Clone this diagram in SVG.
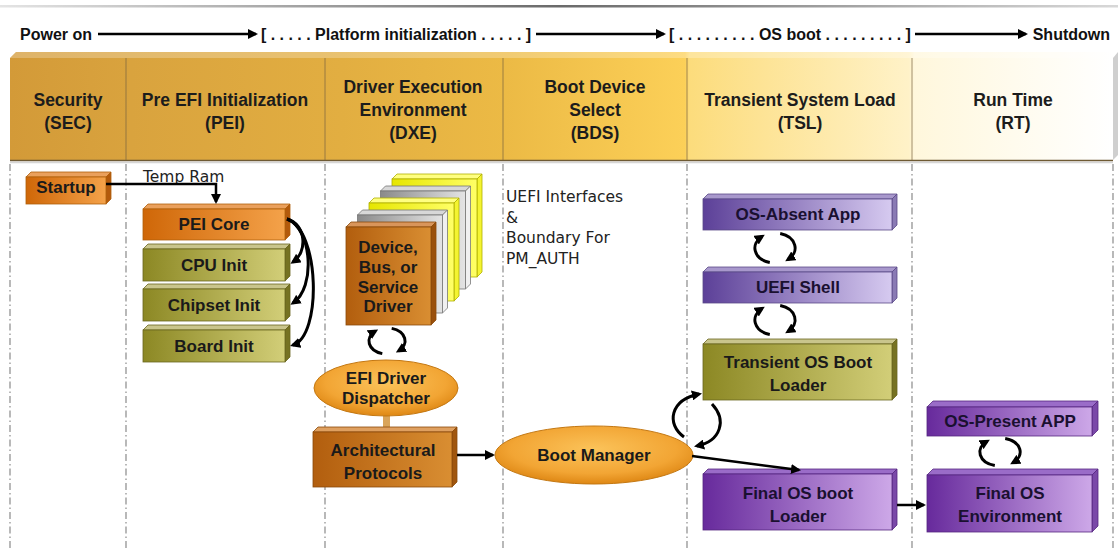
<svg xmlns="http://www.w3.org/2000/svg" width="1118" height="550" viewBox="0 0 1118 550">
  <style>
    .hd { font-family: "Liberation Sans", Arial, sans-serif; font-weight: bold; font-size: 17.5px; fill: #1c1c1c; text-anchor: middle; }
    .tl { font-family: "Liberation Sans", Arial, sans-serif; font-weight: bold; font-size: 16px; fill: #111; }
    .bx { font-family: "Liberation Sans", Arial, sans-serif; font-weight: bold; font-size: 17px; fill: #1a1a1a; text-anchor: middle; }
    .bxp { font-family: "Liberation Sans", Arial, sans-serif; font-weight: bold; font-size: 17px; fill: #1a1030; text-anchor: middle; }
    .hand { font-family: "DejaVu Sans", sans-serif; font-size: 15.5px; fill: #222; }
    .div { stroke: #8a8a8a; stroke-width: 1.2; stroke-dasharray: 7 3 1.5 3; fill: none; }
    .hdiv { stroke: #7a6440; stroke-width: 1; opacity: 0.7; }
    .arw { stroke: #000; stroke-width: 2.5; fill: none; marker-end: url(#ah); }
    .cur { stroke: #000; stroke-width: 3; fill: none; marker-end: url(#ah2); }
    .edge { stroke-width: 0.8; }
    .o { stroke: #b0600c; }
    .ol { stroke: #6a6620; }
    .br { stroke: #8a4a0a; }
    .lv { stroke: #5a4a88; }
    .pu { stroke: #552680; }
    .gr { stroke: #777; }
    .ye { stroke: #b0b000; }
  </style>
  <defs>
    <marker id="ah" viewBox="0 0 10 10" refX="8" refY="5" markerWidth="4" markerHeight="4" orient="auto" markerUnits="strokeWidth">
      <path d="M0,0 L10,5 L0,10 z" fill="#000"/>
    </marker>
    <marker id="ah2" viewBox="0 0 10 10" refX="7" refY="5" markerWidth="3.4" markerHeight="3.4" orient="auto" markerUnits="strokeWidth">
      <path d="M0,0 L10,5 L0,10 z" fill="#000"/>
    </marker>
    <linearGradient id="rule" x1="0" x2="1" y1="0" y2="0">
      <stop offset="0" stop-color="#e4e4e4"/>
      <stop offset="0.5" stop-color="#6a6a6a"/>
      <stop offset="1" stop-color="#d8d8d8"/>
    </linearGradient>
    <linearGradient id="band" gradientUnits="userSpaceOnUse" x1="10" y1="0" x2="1113" y2="0">
      <stop offset="0" stop-color="#d39a38"/>
      <stop offset="0.11" stop-color="#d9a33e"/>
      <stop offset="0.3" stop-color="#e2ae41"/>
      <stop offset="0.45" stop-color="#ecba45"/>
      <stop offset="0.612" stop-color="#fcd058"/>
      <stop offset="0.616" stop-color="#fcdc7c"/>
      <stop offset="0.815" stop-color="#fff2c8"/>
      <stop offset="0.82" stop-color="#fff7dc"/>
      <stop offset="1" stop-color="#ffffff"/>
    </linearGradient>
    <linearGradient id="gOr" x1="0" x2="1" y1="0" y2="0">
      <stop offset="0" stop-color="#cf6708"/>
      <stop offset="1" stop-color="#f4a24a"/>
    </linearGradient>
    <linearGradient id="gOl" x1="0" x2="1" y1="0" y2="0">
      <stop offset="0" stop-color="#8c8824"/>
      <stop offset="1" stop-color="#d2ce78"/>
    </linearGradient>
    <linearGradient id="gBr" x1="0" x2="1" y1="0" y2="0">
      <stop offset="0" stop-color="#b25e0e"/>
      <stop offset="1" stop-color="#d98e32"/>
    </linearGradient>
    <linearGradient id="gLv" x1="0" x2="1" y1="0" y2="0">
      <stop offset="0" stop-color="#5c4098"/>
      <stop offset="1" stop-color="#d6caf0"/>
    </linearGradient>
    <linearGradient id="gPu" x1="0" x2="1" y1="0" y2="0">
      <stop offset="0" stop-color="#672a9c"/>
      <stop offset="1" stop-color="#cda8e8"/>
    </linearGradient>
    <linearGradient id="gGr" x1="0" x2="1" y1="0" y2="0">
      <stop offset="0" stop-color="#8a8a8a"/>
      <stop offset="1" stop-color="#e4e4e4"/>
    </linearGradient>
    <linearGradient id="gYe" x1="0" x2="1" y1="0" y2="0">
      <stop offset="0" stop-color="#e6e600"/>
      <stop offset="1" stop-color="#ffff66"/>
    </linearGradient>
    <radialGradient id="gEl" cx="0.5" cy="0.4" r="0.6">
      <stop offset="0" stop-color="#fbc35a"/>
      <stop offset="0.7" stop-color="#f2a534"/>
      <stop offset="1" stop-color="#de8714"/>
    </radialGradient>
  </defs>

  <!-- top rule -->
  <rect x="0" y="5" width="1118" height="2.5" fill="url(#rule)"/>

  <!-- lifecycle timeline -->
  <g id="timeline">
    <text class="tl" x="20" y="40">Power on</text>
    <line class="arw" x1="98" y1="34" x2="256" y2="34"/>
    <text class="tl" x="396" y="40" text-anchor="middle">[ . . . . . Platform initialization . . . . . ]</text>
    <line class="arw" x1="536" y1="34" x2="664" y2="34"/>
    <text class="tl" x="790" y="40" text-anchor="middle">[ . . . . . . . . . OS boot . . . . . . . . . ]</text>
    <line class="arw" x1="915" y1="34" x2="1026" y2="34"/>
    <text class="tl" x="1110" y="40" text-anchor="end">Shutdown</text>
  </g>

  <!-- phase header band -->
  <g id="phases">
    <polygon points="10,58 16,52 1118,52 1113,58" fill="url(#band)"/>
    <polygon points="10,58 16,52 1118,52 1113,58" fill="#fff" opacity="0.25"/>
    <polygon points="1113,58 1118,52 1118,155 1113,160" fill="#cfcfcf"/>
    <rect x="10" y="58" width="1103" height="102" fill="url(#band)"/>
    <line x1="10" y1="160.5" x2="1113" y2="160.5" stroke="#6e5a34" stroke-width="1.6"/>
    <line x1="10" y1="162.5" x2="1113" y2="162.5" stroke="#bbb" stroke-width="1.5" opacity="0.6"/>
    <line class="hdiv" x1="126" y1="58" x2="126" y2="160"/>
    <line class="hdiv" x1="325" y1="58" x2="325" y2="160"/>
    <line class="hdiv" x1="503" y1="58" x2="503" y2="160"/>
    <line class="hdiv" x1="687" y1="58" x2="687" y2="160"/>
    <line class="hdiv" x1="912" y1="58" x2="912" y2="160"/>

    <text class="hd" x="68" y="106">Security</text>
    <text class="hd" x="68" y="129">(SEC)</text>
    <text class="hd" x="225" y="106">Pre EFI Initialization</text>
    <text class="hd" x="225" y="129">(PEI)</text>
    <text class="hd" x="413" y="93">Driver Execution</text>
    <text class="hd" x="413" y="116">Environment</text>
    <text class="hd" x="413" y="139">(DXE)</text>
    <text class="hd" x="595" y="93">Boot Device</text>
    <text class="hd" x="595" y="116">Select</text>
    <text class="hd" x="595" y="139">(BDS)</text>
    <text class="hd" x="800" y="106">Transient System Load</text>
    <text class="hd" x="800" y="129">(TSL)</text>
    <text class="hd" x="1013" y="106">Run Time</text>
    <text class="hd" x="1013" y="129">(RT)</text>
  </g>

  <!-- column dividers -->
  <g id="columns">
    <line class="div" x1="10" y1="164" x2="10" y2="550"/>
    <line class="div" x1="126" y1="164" x2="126" y2="550"/>
    <line class="div" x1="325" y1="164" x2="325" y2="550"/>
    <line class="div" x1="503" y1="164" x2="503" y2="550"/>
    <line class="div" x1="687" y1="164" x2="687" y2="550"/>
    <line class="div" x1="912" y1="164" x2="912" y2="550"/>
    <line class="div" x1="1113" y1="164" x2="1113" y2="550"/>
  </g>

  <!-- SEC -->
  <g id="startup">
    <polygon class="edge o" points="26,177 31,172 111,172 106,177" fill="#eaa05c"/>
    <polygon class="edge o" points="106,177 111,172 111,199 106,204" fill="#b35a0c"/>
    <rect class="edge o" x="26" y="177" width="80" height="27" fill="url(#gOr)"/>
    <text class="bx" x="66" y="193">Startup</text>
  </g>

  <!-- PEI -->
  <g id="pei-core">
    <polygon class="edge o" points="143,209 148,204 290,204 285,209" fill="#eaa05c"/>
    <polygon class="edge o" points="285,209 290,204 290,235 285,240" fill="#b35a0c"/>
    <rect class="edge o" x="143" y="209" width="142" height="31" fill="url(#gOr)"/>
    <text class="bx" x="214" y="230">PEI Core</text>
  </g>
  <g id="cpu-init">
    <polygon class="edge ol" points="143,249 148,244 290,244 285,249" fill="#c9c58c"/>
    <polygon class="edge ol" points="285,249 290,244 290,276 285,281" fill="#767222"/>
    <rect class="edge ol" x="143" y="249" width="142" height="32" fill="url(#gOl)"/>
    <text class="bx" x="214" y="271">CPU Init</text>
  </g>
  <g id="chipset-init">
    <polygon class="edge ol" points="143,289 148,284 290,284 285,289" fill="#c9c58c"/>
    <polygon class="edge ol" points="285,289 290,284 290,316 285,321" fill="#767222"/>
    <rect class="edge ol" x="143" y="289" width="142" height="32" fill="url(#gOl)"/>
    <text class="bx" x="214" y="311">Chipset Init</text>
  </g>
  <g id="board-init">
    <polygon class="edge ol" points="143,330 148,325 290,325 285,330" fill="#c9c58c"/>
    <polygon class="edge ol" points="285,330 290,325 290,357 285,362" fill="#767222"/>
    <rect class="edge ol" x="143" y="330" width="142" height="32" fill="url(#gOl)"/>
    <text class="bx" x="214" y="352">Board Init</text>
  </g>

  <!-- DXE: stacked driver cards, back to front -->
  <g id="drivers">
    <polygon class="edge ye" points="392,179 397,174 482,174 477,179" fill="#ffff80"/>
    <polygon class="edge ye" points="477,179 482,174 482,272 477,277" fill="#f4f430"/>
    <rect class="edge ye" x="392" y="179" width="85" height="98" fill="url(#gYe)"/>

    <polygon class="edge gr" points="380.5,191 385.5,186 470.5,186 465.5,191" fill="#d8d8d8"/>
    <polygon class="edge gr" points="465.5,191 470.5,186 470.5,284 465.5,289" fill="#f0f0f0"/>
    <rect class="edge gr" x="380.5" y="191" width="85" height="98" fill="url(#gGr)"/>

    <polygon class="edge ye" points="369,203 374,198 459,198 454,203" fill="#ffff80"/>
    <polygon class="edge ye" points="454,203 459,198 459,296 454,301" fill="#f4f430"/>
    <rect class="edge ye" x="369" y="203" width="85" height="98" fill="url(#gYe)"/>

    <polygon class="edge gr" points="357.5,215 362.5,210 447.5,210 442.5,215" fill="#d8d8d8"/>
    <polygon class="edge gr" points="442.5,215 447.5,210 447.5,308 442.5,313" fill="#f0f0f0"/>
    <rect class="edge gr" x="357.5" y="215" width="85" height="98" fill="url(#gGr)"/>

    <polygon class="edge br" points="346,227 351,222 436,222 431,227" fill="#d9955a"/>
    <polygon class="edge br" points="431,227 436,222 436,320 431,325" fill="#9a500c"/>
    <rect class="edge br" x="346" y="227" width="85" height="98" fill="url(#gBr)"/>
    <text class="bx" x="388" y="253">Device,</text>
    <text class="bx" x="388" y="273">Bus, or</text>
    <text class="bx" x="388" y="293">Service</text>
    <text class="bx" x="388" y="312">Driver</text>
  </g>
  <g id="dispatcher">
    <rect x="383" y="413" width="7" height="15" fill="#d9a45a"/>
    <ellipse cx="386" cy="388" rx="72" ry="28" fill="url(#gEl)" stroke="#c47812" stroke-width="1"/>
    <text class="bx" x="386" y="384">EFI Driver</text>
    <text class="bx" x="386" y="404">Dispatcher</text>
  </g>
  <g id="arch-protocols">
    <polygon class="edge br" points="313,432 318,427 457,427 452,432" fill="#dfa060"/>
    <polygon class="edge br" points="452,432 457,427 457,482 452,487" fill="#a0560e"/>
    <rect class="edge br" x="313" y="432" width="139" height="55" fill="url(#gBr)"/>
    <text class="bx" x="383" y="456">Architectural</text>
    <text class="bx" x="383" y="479">Protocols</text>
  </g>

  <!-- BDS -->
  <g id="bds-note">
    <text class="hand" x="506" y="202">UEFI Interfaces</text>
    <text class="hand" x="506" y="223">&amp;</text>
    <text class="hand" x="506" y="243">Boundary For</text>
    <text class="hand" x="506" y="264">PM_AUTH</text>
  </g>
  <g id="boot-manager">
    <ellipse cx="594" cy="455" rx="99" ry="29" fill="url(#gEl)" stroke="#c47812" stroke-width="1"/>
    <text class="bx" x="594" y="461">Boot Manager</text>
  </g>

  <!-- TSL -->
  <g id="os-absent-app">
    <polygon class="edge lv" points="703,199 708,194 897,194 892,199" fill="#a898cc"/>
    <polygon class="edge lv" points="892,199 897,194 897,225 892,230" fill="#8a7ab4"/>
    <rect class="edge lv" x="703" y="199" width="189" height="31" fill="url(#gLv)"/>
    <text class="bxp" x="798" y="220">OS-Absent App</text>
  </g>
  <g id="uefi-shell">
    <polygon class="edge lv" points="703,272 708,267 897,267 892,272" fill="#a898cc"/>
    <polygon class="edge lv" points="892,272 897,267 897,298 892,303" fill="#8a7ab4"/>
    <rect class="edge lv" x="703" y="272" width="189" height="31" fill="url(#gLv)"/>
    <text class="bxp" x="798" y="293">UEFI Shell</text>
  </g>
  <g id="transient-loader">
    <polygon class="edge ol" points="703,344 708,339 897,339 892,344" fill="#c9c58c"/>
    <polygon class="edge ol" points="892,344 897,339 897,395 892,400" fill="#767222"/>
    <rect class="edge ol" x="703" y="344" width="189" height="56" fill="url(#gOl)"/>
    <text class="bx" x="798" y="368">Transient OS Boot</text>
    <text class="bx" x="798" y="391">Loader</text>
  </g>
  <g id="final-loader">
    <polygon class="edge pu" points="703,474 708,469 897,469 892,474" fill="#9a6cc8"/>
    <polygon class="edge pu" points="892,474 897,469 897,525 892,530" fill="#7a48a8"/>
    <rect class="edge pu" x="703" y="474" width="189" height="56" fill="url(#gPu)"/>
    <text class="bxp" x="798" y="499">Final OS boot</text>
    <text class="bxp" x="798" y="522">Loader</text>
  </g>

  <!-- RT -->
  <g id="os-present-app">
    <polygon class="edge pu" points="927,407 933,401 1098,401 1092,407" fill="#9a6cc8"/>
    <polygon class="edge pu" points="1092,407 1098,401 1098,430 1092,436" fill="#7a48a8"/>
    <rect class="edge pu" x="927" y="407" width="165" height="29" fill="url(#gPu)"/>
    <text class="bxp" x="1010" y="427">OS-Present APP</text>
  </g>
  <g id="final-os-env">
    <polygon class="edge pu" points="927,475 933,469 1098,469 1092,475" fill="#9a6cc8"/>
    <polygon class="edge pu" points="1092,475 1098,469 1098,526 1092,532" fill="#7a48a8"/>
    <rect class="edge pu" x="927" y="475" width="165" height="57" fill="url(#gPu)"/>
    <text class="bxp" x="1010" y="499">Final OS</text>
    <text class="bxp" x="1010" y="522">Environment</text>
  </g>

  <!-- connectors -->
  <g id="connectors">
    <text class="hand" x="143" y="182" font-size="12.5">Temp Ram</text>
    <path class="arw" d="M106,184 L216,184 L216,202"/>

    <path class="cur" d="M287,219 C306,224 308,252 293,262"/>
    <path class="cur" d="M287,219 C312,228 316,288 293,303"/>
    <path class="cur" d="M287,219 C320,230 322,336 293,345"/>

    <path class="cur" d="M391.7,328.4 A18 13 0 0 1 398.5,351"/>
    <path class="cur" d="M382.3,353.6 A18 13 0 0 1 375.5,331"/>

    <line class="arw" x1="457" y1="455" x2="493" y2="455"/>

    <path class="cur" d="M684,437 C666,424 670,400 699,394"/>
    <path class="cur" d="M712,404 C727,420 721,441 697,446"/>
    <line class="arw" x1="692" y1="456" x2="799" y2="470"/>

    <path class="cur" d="M780.2,233.5 A20 15 0 0 1 787.8,259.6"/>
    <path class="cur" d="M769.8,262.5 A20 15 0 0 1 762.2,236.4"/>
    <path class="cur" d="M780.2,305.5 A20 15 0 0 1 787.8,331.6"/>
    <path class="cur" d="M769.8,334.5 A20 15 0 0 1 762.2,308.4"/>

    <line class="arw" x1="897" y1="505" x2="924" y2="505"/>

    <path class="cur" d="M1005.2,438.4 A20 14 0 0 1 1012.8,462.8"/>
    <path class="cur" d="M994.8,465.6 A20 14 0 0 1 987.2,441.2"/>
  </g>
</svg>
